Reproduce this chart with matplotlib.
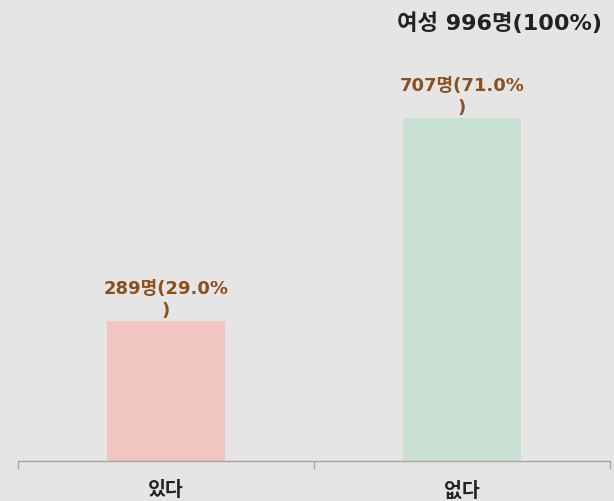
import matplotlib
matplotlib.use('Agg')
import matplotlib.pyplot as plt

plt.rcParams['font.family'] = ['DejaVu Sans', 'Noto Sans CJK KR']

# 데이터
categories = ['있다', '없다']
counts = [289, 707]
percents = [29.0, 71.0]
total = 996
bar_colors = ['#f1c6c1', '#c9e1d3']
label_color = '#8c4f1e'
bg_color = '#e5e5e5'

fig = plt.figure(figsize=(6.14, 5.02), dpi=100, facecolor=bg_color)
ax = fig.add_axes([18 / 614, 40 / 502, 592 / 614, 432 / 502])
ax.set_facecolor(bg_color)

x = list(range(len(categories)))
bars = ax.bar(x, counts, width=0.4, color=bar_colors, zorder=2)

ax.set_xlim(-0.5, 1.5)
ax.set_ylim(0, 890)

# 막대 위 라벨 (줄바꿈된 형태)
for xi, c, p in zip(x, counts, percents):
    ax.annotate(f'{c}명({p:.1f}%\n)', (xi, c), xytext=(0, 1), textcoords='offset points',
                ha='center', va='bottom', fontsize=13, fontweight='bold',
                color=label_color, linespacing=1.3)

# 축 스타일
for side in ['top', 'right', 'left']:
    ax.spines[side].set_visible(False)
ax.spines['bottom'].set_color('#a6a6a6')
ax.spines['bottom'].set_linewidth(1.0)
ax.set_yticks([])
ax.set_xticks(x)
ax.set_xticklabels(categories, fontsize=14, fontweight='bold', color='#222222')
ax.tick_params(axis='x', which='major', length=0, pad=14)
ax.set_xticks([-0.5, 0.5, 1.5], minor=True)
ax.tick_params(axis='x', which='minor', length=6, color='#a6a6a6', width=1.0)

fig.text(602 / 614, 1 - 23 / 502, f'여성 {total}명(100%)', ha='right', va='center',
         fontsize=16, fontweight='bold', color='#222222')

fig.savefig('out.png', dpi=100, facecolor=bg_color)
